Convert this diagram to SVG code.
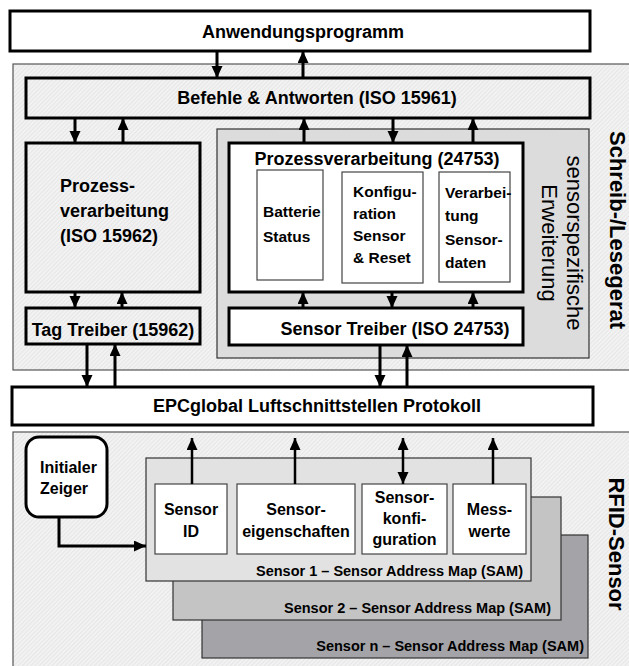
<svg xmlns="http://www.w3.org/2000/svg" width="629" height="666" viewBox="0 0 629 666">
<defs>
<pattern id="hatch" patternUnits="userSpaceOnUse" width="3" height="3" patternTransform="rotate(45)">
<rect width="3" height="3" fill="#f2f2f2"/>
<line x1="0" y1="0" x2="0" y2="3" stroke="#dadada" stroke-width="1"/>
</pattern>
<marker id="ah" markerUnits="userSpaceOnUse" markerWidth="12" markerHeight="12" refX="12" refY="5.5" orient="auto-start-reverse">
<path d="M0,0 L12,5.5 L0,11 z" fill="#000"/>
</marker>
</defs>
<style>
.t{font-family:"Liberation Sans",Arial,sans-serif;font-weight:bold;fill:#000}
.s18{font-size:18px}
.s16{font-size:16px}
.s15{font-size:15.5px}
.s14{font-size:14.5px}
.m{text-anchor:middle}
.e{text-anchor:end}
.side{font-family:"Liberation Sans",Arial,sans-serif;font-size:22px;text-anchor:middle;fill:#000}
.b{font-weight:bold}
.box{stroke:#000;stroke-width:3}
.thin{stroke:#444;stroke-width:1.2;fill:#fff}
.bg{fill:url(#hatch);stroke:#555;stroke-width:1.2}
.ar{stroke:#000;stroke-width:3;fill:none;marker-end:url(#ah)}
.ar2{stroke:#000;stroke-width:2.5;fill:none;marker-end:url(#ah)}
</style>

<g id="reader-bg">
<rect class="bg" x="13" y="64" width="630" height="306"/>
<text class="side b" transform="translate(610,230) rotate(90)">Schreib-/Lesegerat</text>
</g>
<g id="rfid-bg">
<rect class="bg" x="13" y="432" width="630" height="250"/>
<text class="side b" transform="translate(609,544) rotate(90)">RFID-Sensor</text>
</g>

<g id="anwendung">
<rect class="box" x="10" y="11" width="580" height="40" fill="#fff"/>
<text class="t s18 m" x="303" y="38">Anwendungsprogramm</text>
</g>
<g id="befehle">
<rect class="box" x="26" y="78" width="564" height="40" fill="url(#hatch)"/>
<text class="t s18 m" x="317" y="104">Befehle &amp; Antworten (ISO 15961)</text>
</g>
<g id="prozess15962">
<rect class="box" x="26" y="143" width="174" height="149" fill="url(#hatch)"/>
<text class="t s18" x="60" y="192">Prozess-</text>
<text class="t s18" x="60" y="217">verarbeitung</text>
<text class="t s18" x="60" y="242">(ISO 15962)</text>
</g>
<g id="tagtreiber">
<rect class="box" x="26" y="308" width="174" height="36" fill="url(#hatch)"/>
<text class="t s18 m" x="113" y="336">Tag Treiber (15962)</text>
</g>
<g id="erweiterung">
<rect x="217" y="129" width="372" height="229" fill="#dcdcdc" stroke="#333" stroke-width="1.2"/>
<text class="side" transform="translate(567,243) rotate(90)">sensorspezifische</text>
<text class="side" transform="translate(542,243) rotate(90)">Erweiterung</text>
</g>
<g id="prozess24753">
<rect class="box" x="229" y="143" width="294" height="149" fill="#fff"/>
<text class="t s18 m" x="377" y="165">Prozessverarbeitung (24753)</text>
</g>
<g id="batterie">
<rect class="thin" x="257" y="170" width="66" height="110"/>
<text class="t s15" x="263" y="217">Batterie</text>
<text class="t s15" x="263" y="242">Status</text>
</g>
<g id="konfiguration">
<rect class="thin" x="342" y="172" width="81" height="111"/>
<text class="t s15" x="353" y="197">Konfigu-</text>
<text class="t s15" x="353" y="219">ration</text>
<text class="t s15" x="353" y="241">Sensor</text>
<text class="t s15" x="353" y="263">&amp; Reset</text>
</g>
<g id="verarbeitung">
<rect class="thin" x="439" y="172" width="71" height="110"/>
<text class="t s15" x="445" y="198">Verarbei-</text>
<text class="t s15" x="445" y="221">tung</text>
<text class="t s15" x="445" y="245">Sensor-</text>
<text class="t s15" x="445" y="268">daten</text>
</g>
<g id="sensortreiber">
<rect class="box" x="229" y="308" width="294" height="37" fill="#fff"/>
<text class="t s18 m" x="395" y="335">Sensor Treiber (ISO 24753)</text>
</g>
<g id="epc">
<rect class="box" x="12" y="387" width="581" height="38" fill="#fff"/>
<text class="t s18 m" x="317" y="412">EPCglobal Luftschnittstellen Protokoll</text>
</g>

<g id="sam-n">
<rect x="202" y="535" width="386" height="123" fill="#a4a4a8" stroke="#333" stroke-width="1.2"/>
<text class="t s14 e" x="584" y="651">Sensor n – Sensor Address Map (SAM)</text>
</g>
<g id="sam-2">
<rect x="173" y="497" width="388" height="123" fill="#c4c4c4" stroke="#333" stroke-width="1.2"/>
<text class="t s14 e" x="551" y="613">Sensor 2 – Sensor Address Map (SAM)</text>
</g>
<g id="sam-1">
<rect x="146" y="458" width="385" height="123" fill="#e2e2e2" stroke="#333" stroke-width="1.2"/>
<text class="t s14 e" x="523" y="576">Sensor 1 – Sensor Address Map (SAM)</text>
</g>
<g id="sensorid">
<rect class="thin" x="155" y="484" width="72" height="70" stroke="#222"/>
<text class="t s16 m" x="191" y="515">Sensor</text>
<text class="t s16 m" x="191" y="537">ID</text>
</g>
<g id="eigenschaften">
<rect class="thin" x="237" y="484" width="118" height="70" stroke="#222"/>
<text class="t s16 m" x="296" y="515">Sensor-</text>
<text class="t s16 m" x="296" y="537">eigenschaften</text>
</g>
<g id="sensorkonfiguration">
<rect class="thin" x="362" y="484" width="85" height="70" stroke="#222"/>
<text class="t s16 m" x="404.5" y="503">Sensor-</text>
<text class="t s16 m" x="404.5" y="524">konfi-</text>
<text class="t s16 m" x="404.5" y="545">guration</text>
</g>
<g id="messwerte">
<rect class="thin" x="453" y="484" width="73" height="70" stroke="#222"/>
<text class="t s16 m" x="489.5" y="515">Mess-</text>
<text class="t s16 m" x="489.5" y="537">werte</text>
</g>
<g id="initialer">
<rect class="box" x="26" y="437" width="81" height="80" rx="13" fill="#fff"/>
<text class="t s16" x="40" y="473">Initialer</text>
<text class="t s16" x="40" y="494">Zeiger</text>
</g>

<g id="connectors">
<path class="ar" d="M217,51 V78"/>
<path class="ar" d="M303,78 V51"/>
<path class="ar" d="M75,118 V143"/>
<path class="ar" d="M123,143 V118"/>
<path class="ar" d="M304,143 V118"/>
<path class="ar" d="M393,118 V143"/>
<path class="ar" d="M473,143 V118"/>
<path class="ar" d="M75,292 V308"/>
<path class="ar" d="M122,308 V292"/>
<path class="ar" d="M303,308 V292"/>
<path class="ar" d="M392,292 V308"/>
<path class="ar" d="M473,308 V292"/>
<path class="ar" d="M87,344 V387"/>
<path class="ar" d="M115,387 V344"/>
<path class="ar" d="M380,345 V387"/>
<path class="ar" d="M407,387 V345"/>
<path class="ar2" d="M192,484 V438"/>
<path class="ar2" d="M295,484 V438"/>
<path class="ar2" d="M403,461 V438"/>
<path class="ar2" d="M403,461 V484"/>
<path class="ar2" d="M493,484 V438"/>
<path class="ar" d="M59,517 V546 H146"/>
</g>
</svg>
